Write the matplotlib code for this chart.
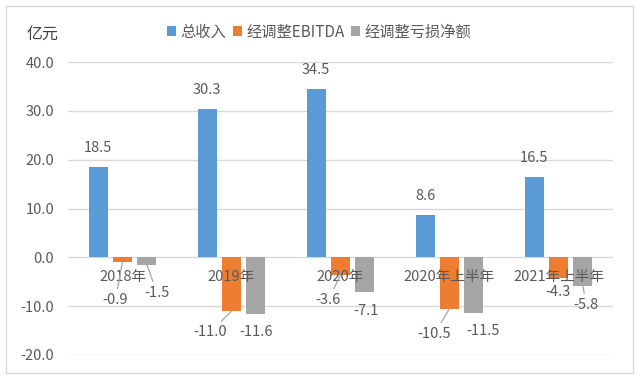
import matplotlib
matplotlib.use('Agg')
from matplotlib import pyplot as plt
from matplotlib.patches import Rectangle

plt.rcParams['font.family'] = ['Noto Sans CJK SC', 'DejaVu Sans']
plt.rcParams['axes.unicode_minus'] = False

categories = ['2018年', '2019年', '2020年', '2020年上半年', '2021年上半年']
revenue = [18.5, 30.3, 34.5, 8.6, 16.5]
ebitda = [-0.9, -11.0, -3.6, -10.5, -4.3]
net_loss = [-1.5, -11.6, -7.1, -11.5, -5.8]
series_names = ['总收入', '经调整EBITDA', '经调整亏损净额']
y_ticks = [-20, -10, 0, 10, 20, 30, 40]

# label placement for the negative bars (pixels from bar end), and leader lines
ebitda_offsets = [(-7, -38), (-21, -21), (-12, -25), (-15, -25), (-1, -14)]
ebitda_lines = [True, True, True, True, False]
loss_offsets = [(10, -28), (0, -18), (1, -19), (9, -18), (3, -19)]
loss_lines = [True, False, False, False, True]

colors = ['#5B9BD5', '#ED7D31', '#A5A5A5']
text_color = '#595959'
grid_color = '#D9D9D9'

fig = plt.figure(figsize=(6.39, 3.79), dpi=100)
ax = fig.add_axes([68 / 639, 1 - 355 / 379, 545 / 639, 293 / 379])
fig.patches.append(Rectangle((6 / 639, 1 - 373 / 379), 627 / 639, 367 / 379,
                             transform=fig.transFigure, fill=False,
                             edgecolor=grid_color, lw=1))

x = list(range(len(categories)))
w = 0.174
step = 0.224
bars = []
for k, vals in enumerate([revenue, ebitda, net_loss]):
    pos = [i + (k - 1) * step for i in x]
    b = ax.bar(pos, vals, w, color=colors[k], label=series_names[k], zorder=3)
    bars.append(b)

ax.set_xlim(-0.5, len(categories) - 0.5)
ax.set_ylim(-20, 40)
ax.set_yticks(y_ticks)
ax.set_yticklabels(['%.1f' % v for v in y_ticks])
ax.set_xticks([])
ax.tick_params(axis='y', length=0, pad=10, labelsize=10.5, labelcolor=text_color)
ax.grid(axis='y', color=grid_color, lw=1, zorder=0)
for s in ax.spines.values():
    s.set_visible(False)

for i, cat in enumerate(categories):
    ax.annotate(cat, (i, 0), xytext=(0, -20), textcoords='offset pixels',
                ha='center', va='center', fontsize=10.5, color=text_color, zorder=5)

for rect, v in zip(bars[0], revenue):
    ax.annotate('%.1f' % v, (rect.get_x() + rect.get_width() / 2, v),
                xytext=(0, 19), textcoords='offset pixels', ha='center',
                va='center', fontsize=10.5, color=text_color)


def neg_labels(bar_group, vals, offsets, lines):
    for rect, v, off, ln in zip(bar_group, vals, offsets, lines):
        props = None
        if ln:
            props = dict(arrowstyle='-', color='#A6A6A6', lw=0.9,
                         shrinkA=1, shrinkB=0)
        ax.annotate('%.1f' % v, (rect.get_x() + rect.get_width() / 2, v),
                    xytext=off, textcoords='offset pixels', ha='center',
                    va='center', fontsize=10.5, color=text_color,
                    arrowprops=props, zorder=6)


neg_labels(bars[1], ebitda, ebitda_offsets, ebitda_lines)
neg_labels(bars[2], net_loss, loss_offsets, loss_lines)

fig.text(43 / 639, 1 - 34 / 379, '亿元', ha='center', va='center',
         fontsize=11.5, color='#404040')
fig.legend(loc='center', bbox_to_anchor=(319 / 639, 1 - 32 / 379), ncol=3,
           frameon=False, fontsize=11, handlelength=0.6, handleheight=0.6,
           handletextpad=0.3, columnspacing=0.4, labelcolor=text_color)

fig.savefig('out.png', dpi=100)
